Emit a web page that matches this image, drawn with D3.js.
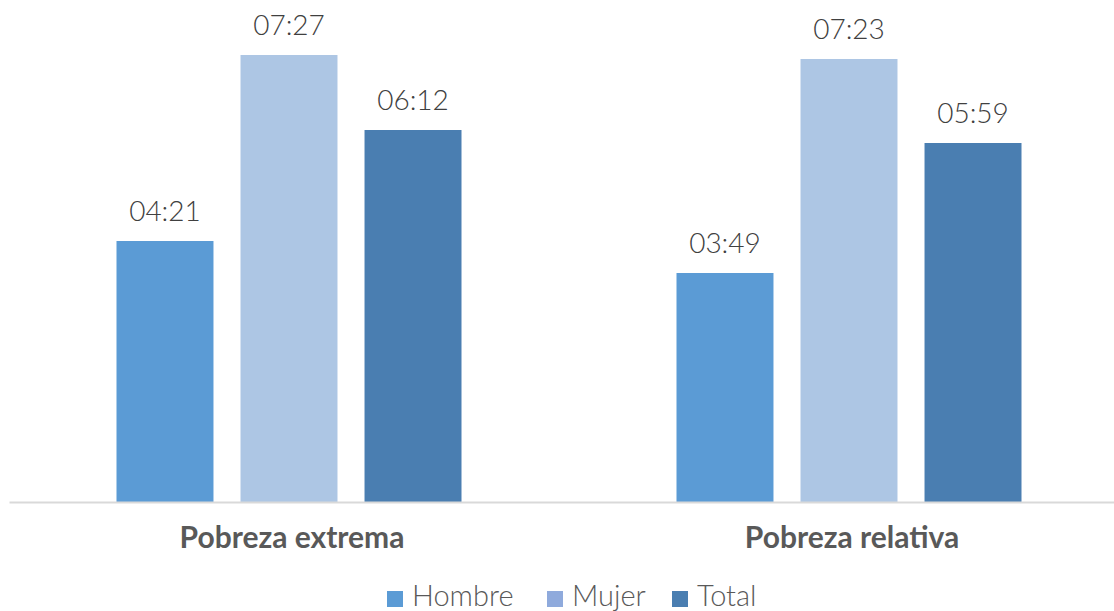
<!DOCTYPE html>
<html><head><meta charset="utf-8">
<script src="https://cdn.jsdelivr.net/npm/d3@7"></script>
<style>html,body{margin:0;padding:0;background:#fff;}svg{display:block;}</style>
</head><body>
<svg id="c" width="1114" height="611"></svg>
<script>
const categories = ["Pobreza extrema", "Pobreza relativa"];
const series = ["Hombre", "Mujer", "Total"];
const hombre = ["04:21", "03:49"];
const mujer = ["07:27", "07:23"];
const total = ["06:12", "05:59"];
const colors = ["#5B9BD5", "#ADC6E4", "#4A7EB1"];
const legendColors = ["#5B9BD5", "#8FAADC", "#4A7EB1"];

const toMin = s => { const [h, m] = s.split(":").map(Number); return h * 60 + m; };
const valuesBySeries = [hombre, mujer, total];

const svg = d3.select("#c");
const x0 = d3.scaleBand().domain(categories).range([9, 1129]).padding(0);
const x1 = d3.scaleBand().domain(series).range([107.5, 452.5]).paddingInner(0.218).paddingOuter(0);
const y = d3.scaleLinear().domain([0, 480]).range([502, 22]);

const font = "Lato, 'Open Sans', sans-serif";

// bars
categories.forEach((cat, ci) => {
  const g = svg.append("g").attr("transform", `translate(${x0(cat)},0)`);
  series.forEach((s, si) => {
    const v = toMin(valuesBySeries[si][ci]);
    g.append("rect")
      .attr("x", x1(s)).attr("width", x1.bandwidth())
      .attr("y", y(v)).attr("height", y(0) - y(v))
      .attr("fill", colors[si]);
    g.append("text")
      .attr("x", x1(s) + x1.bandwidth() / 2)
      .attr("y", y(v) - 20)
      .attr("text-anchor", "middle")
      .attr("font-family", font).attr("font-size", 28).attr("font-weight", 300)
      .attr("fill", "#404040")
      .text(valuesBySeries[si][ci]);
  });
});

// axis
const xAxis = d3.axisBottom(x0).tickSize(0).tickPadding(25);
const ax = svg.append("g").attr("transform", `translate(0,${y(0)})`).call(xAxis);
ax.select(".domain").attr("stroke", "#D9D9D9").attr("stroke-width", 2);
ax.selectAll("text").attr("font-family", font).attr("font-size", 30).attr("font-weight", "bold")
  .attr("fill", "#595959").attr("dy", "0.71em").attr("dx", 3);

// legend
const legX = [387, 547, 672];
series.forEach((s, i) => {
  svg.append("rect").attr("x", legX[i]).attr("y", 591).attr("width", 16).attr("height", 16).attr("fill", legendColors[i]);
  svg.append("text").attr("x", legX[i] + 25).attr("y", 606)
    .attr("font-family", font).attr("font-size", 29).attr("font-weight", 300).attr("fill", "#595959").text(s);
});
</script>
</body></html>
